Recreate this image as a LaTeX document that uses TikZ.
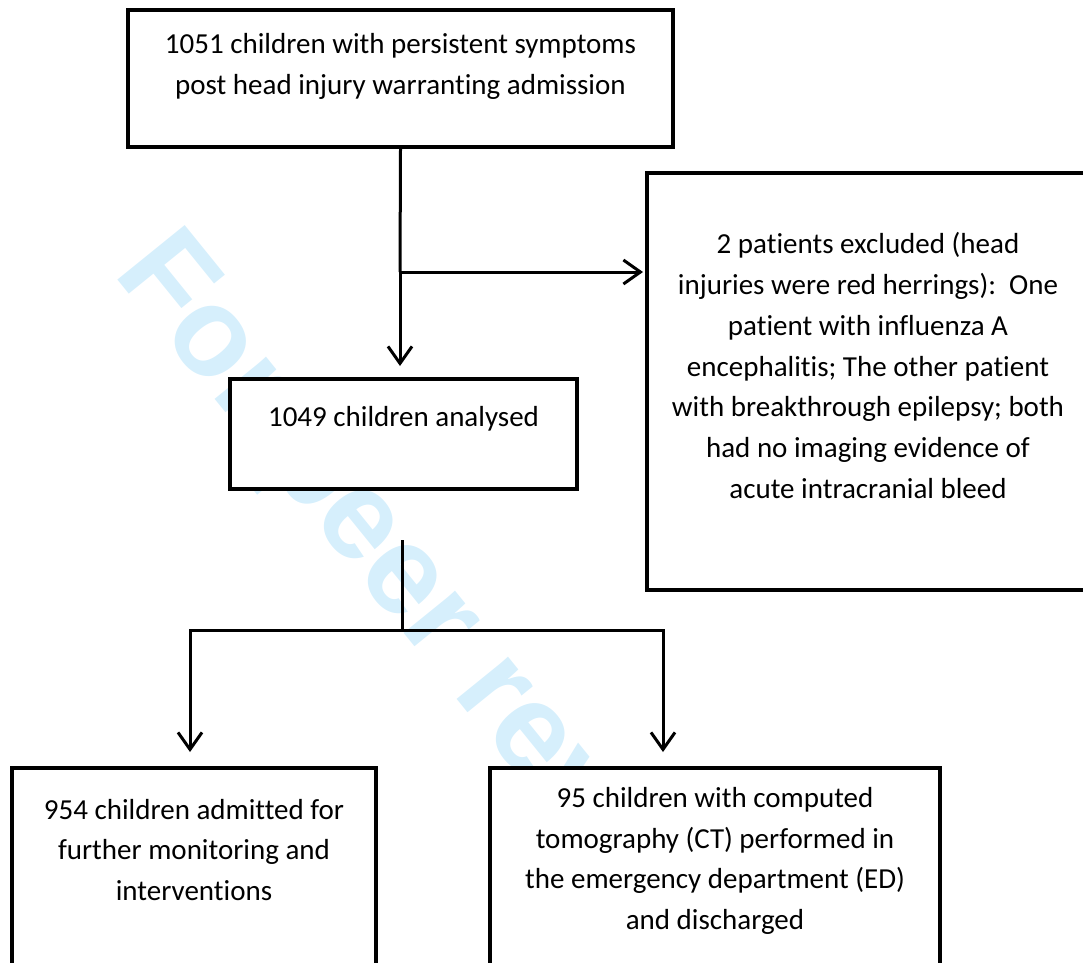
\documentclass[tikz,border=0pt]{standalone}
\usepackage{fontspec}
\setmainfont{Carlito}[Ligatures=NoCommon]
\newfontfamily\wmfont{Liberation Sans}
\usetikzlibrary{arrows.meta}
\definecolor{wmblue}{RGB}{214,239,252}

\begin{document}
\begin{tikzpicture}[x=1pt, y=-1pt,
  stage/.style={draw, line width=4pt, fill=white, inner sep=0pt},
  boxtext/.style={align=center, font=\fontsize{29}{40.8}\selectfont, inner sep=0pt},
  flow/.style={line width=3pt},
  flowarrow/.style={line width=3pt, -{Straight Barb[length=17pt, width=24pt]}}]
\useasboundingbox (0,0) rectangle (1083,962);
% watermark
\node[wmblue, font=\wmfont\bfseries\fontsize{126}{126}\selectfont, rotate=-51, anchor=base west, inner sep=0pt] (wm) at (112,273) {For peer review};
% boxes
\node[stage, minimum width=545pt, minimum height=137pt] (admitted) at (400.5,78.5) {};
\node[stage, minimum width=347pt, minimum height=110pt] (analysed) at (403.5,434) {};
\node[stage, minimum width=442pt, minimum height=417pt] (excluded) at (868,381.5) {};
\node[stage, minimum width=364pt, minimum height=207pt] (ward) at (194,871.5) {};
\node[stage, minimum width=450pt, minimum height=217pt] (ed) at (715,876.5) {};
% texts
\node[boxtext] (admitted-t) at ([yshift=12pt]admitted.center) {1051 children with persistent symptoms\\post head injury warranting admission};
\node[boxtext] (analysed-t) at ([yshift=15pt]analysed.center) {1049 children analysed};
\node[boxtext] (excluded-t) at ([yshift=16pt]excluded.center) {2 patients excluded (head\\injuries were red herrings):\ \ One\\patient with influenza A\\encephalitis; The other patient\\with breakthrough epilepsy; both\\had no imaging evidence of\\acute intracranial bleed};
\node[boxtext] (ward-t) at ([yshift=21.5pt]ward.center) {954 children admitted for\\further monitoring and\\interventions};
\node[boxtext] (ed-t) at ([yshift=15.5pt]ed.center) {95 children with computed\\tomography (CT) performed in\\the emergency department (ED)\\and discharged};
% connectors
\coordinate (split) at (400,272);
\draw[flow] (admitted.south) -- (split);
\draw[flowarrow, shorten >=2pt] (split) -- (excluded.west |- split);
\draw[flowarrow, shorten >=11pt] (split) -- (split |- analysed.north);
\coordinate (fork) at (402,540);
\coordinate (forkbar) at (402,630);
\coordinate (lbar) at (190,630);
\coordinate (rbar) at (663,630);
\draw[flow] (fork) -- (forkbar);
\draw[flow, line cap=rect] (lbar) -- (rbar);
\draw[flowarrow, shorten >=14pt] (lbar) -- (lbar |- ward.north);
\draw[flowarrow, shorten >=14pt] (rbar) -- (rbar |- ed.north);
\end{tikzpicture}
\end{document}
